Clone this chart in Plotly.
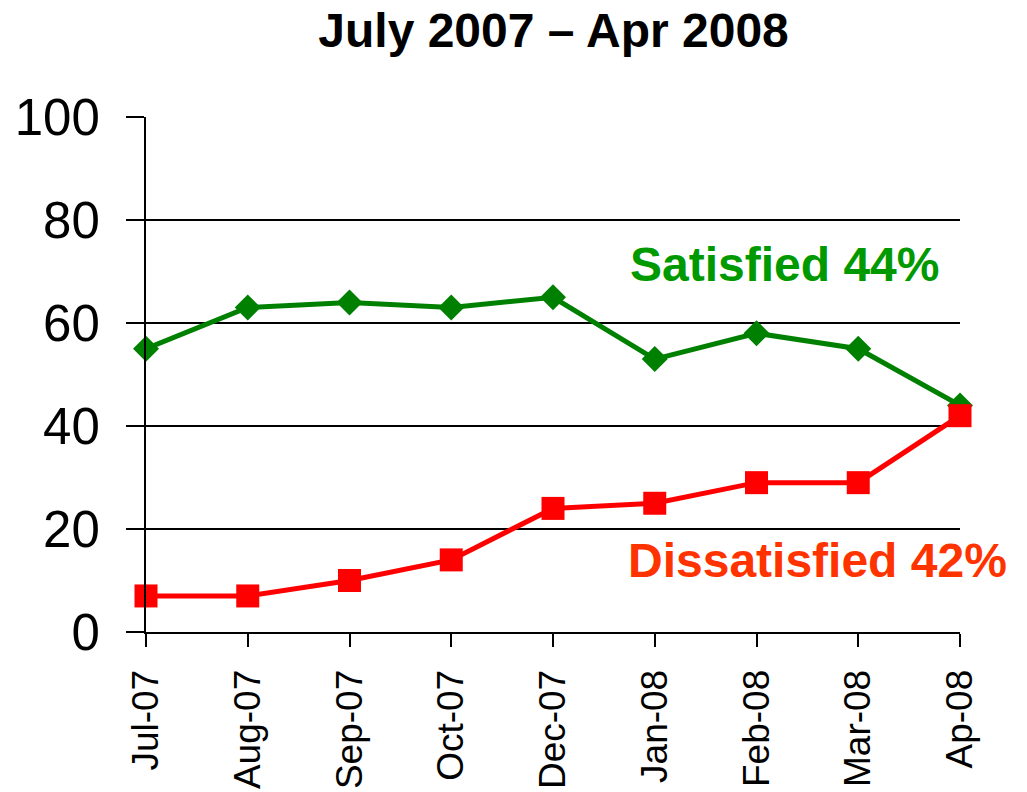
import plotly.graph_objects as go

months = ["Jul-07", "Aug-07", "Sep-07", "Oct-07", "Dec-07", "Jan-08", "Feb-08", "Mar-08", "Ap-08"]
satisfied = [55, 63, 64, 63, 65, 53, 58, 55, 44]
dissatisfied = [7, 7, 10, 14, 24, 25, 29, 29, 42]
y_ticks = [0, 20, 40, 60, 80, 100]

FONT = "Liberation Sans, Arial, sans-serif"

fig = go.Figure()
fig.add_trace(go.Scatter(
    x=months, y=satisfied, mode="lines+markers",
    line=dict(color="#008000", width=5),
    marker=dict(symbol="diamond", size=20, color="#008000"),
    cliponaxis=False, name="Satisfied"))
fig.add_trace(go.Scatter(
    x=months, y=dissatisfied, mode="lines+markers",
    line=dict(color="#ff0000", width=5),
    marker=dict(symbol="square", size=23, color="#ff0000"),
    cliponaxis=False, name="Dissatisfied"))

fig.add_annotation(x=6.28, y=71.3, xref="x", yref="y", text="<b>Satisfied 44%</b>",
                   showarrow=False, font=dict(family=FONT, size=48, color="#009900"))
fig.add_annotation(x=6.6, y=13.9, xref="x", yref="y", text="<b>Dissatisfied 42%</b>",
                   showarrow=False, font=dict(family=FONT, size=48, color="#ff3300"))

fig.update_layout(
    width=1027, height=792,
    margin=dict(l=146, r=67, t=117, b=160),
    paper_bgcolor="white", plot_bgcolor="white",
    showlegend=False,
    font=dict(family=FONT, color="black"),
    title=dict(text="<b>July 2007 – Apr 2008</b>", x=0.539, xanchor="center",
               y=0.962, yanchor="middle", font=dict(family=FONT, size=48, color="black")),
    xaxis=dict(type="category", range=[0, 8], showgrid=False, automargin=False,
               showline=True, linecolor="black", linewidth=2,
               ticks="outside", ticklen=13, tickwidth=2, tickcolor="black",
               tickangle=-90, tickfont=dict(family=FONT, size=37, color="black"),
               ticklabelstandoff=8),
    yaxis=dict(range=[0, 100], tickvals=y_ticks, showgrid=True, gridcolor="black", gridwidth=1.5,
               zeroline=False, showline=True, linecolor="black", linewidth=2, automargin=False,
               ticks="outside", ticklen=18, tickwidth=1.5, tickcolor="black",
               tickfont=dict(family=FONT, size=51, color="black"),
               ticklabelstandoff=16),
)

fig.write_html("out.html", config={"displayModeBar": False},
               post_script="document.body.style.margin='0';document.body.style.overflow='hidden';")
